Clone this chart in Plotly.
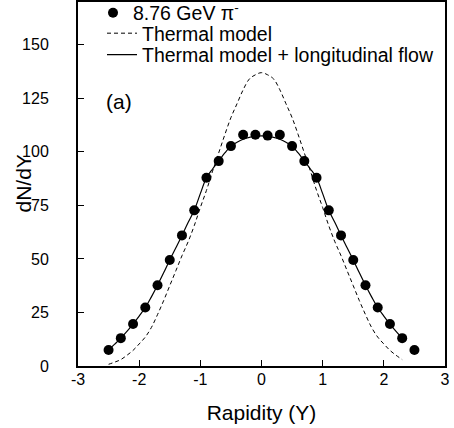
import plotly.graph_objects as go

# Data points (8.76 GeV pi-)
data_y_rap = [-2.5, -2.3, -2.1, -1.9, -1.7, -1.5, -1.3, -1.1, -0.9, -0.7, -0.5, -0.3, -0.1,
              0.1, 0.3, 0.5, 0.7, 0.9, 1.1, 1.3, 1.5, 1.7, 1.9, 2.1, 2.3, 2.5]
data_dndy = [7.5, 13.0, 19.6, 27.3, 37.7, 49.5, 61.0, 72.7, 87.9, 95.7, 102.7, 108.0, 108.0,
             107.6, 108.0, 102.7, 95.7, 87.9, 72.7, 61.0, 49.5, 37.7, 27.3, 19.6, 13.0, 7.5]

# Model curves (step 0.1)
curve_rap = [-2.5, -2.4, -2.3, -2.2, -2.1, -2.0, -1.9, -1.8, -1.7, -1.6, -1.5, -1.4, -1.3,
             -1.2, -1.1, -1.0, -0.9, -0.8, -0.7, -0.6, -0.5, -0.4, -0.3, -0.2, -0.1, 0.0,
             0.1, 0.2, 0.3, 0.4, 0.5, 0.6, 0.7, 0.8, 0.9, 1.0, 1.1, 1.2, 1.3, 1.4, 1.5,
             1.6, 1.7, 1.8, 1.9, 2.0, 2.1, 2.2, 2.3]
thermal = [0.8, 1.8, 3.0, 5.0, 7.3, 10.3, 13.5, 18.0, 24.0, 30.5, 37.5, 44.5, 51.5,
           58.0, 65.5, 74.0, 82.0, 91.0, 99.5, 108.0, 116.0, 122.5, 129.0, 134.0, 136.0, 137.0,
           136.0, 134.0, 129.0, 122.5, 116.0, 108.0, 99.5, 91.0, 82.0, 74.0, 65.5, 58.0, 51.5, 44.5, 37.5,
           30.5, 24.0, 18.0, 13.5, 10.3, 7.3, 5.0, 3.0]
thermal_flow = [7.5, 10.2, 13.0, 16.2, 19.6, 23.3, 27.3, 32.3, 37.7, 43.5, 49.5, 55.2, 61.0,
                67.0, 72.7, 80.5, 87.9, 92.0, 95.7, 99.5, 102.7, 104.5, 105.9, 106.8, 107.3, 107.5,
                107.3, 106.8, 105.9, 104.5, 102.7, 99.5, 95.7, 92.0, 87.9, 80.5, 72.7, 67.0, 61.0, 55.2, 49.5,
                43.5, 37.7, 32.3, 27.3, 23.3, 19.6, 16.2, 13.0]

x_ticks = [-3, -2, -1, 0, 1, 2, 3]
y_ticks = [0, 25, 50, 75, 100, 125, 150]
y_range = [0, 170]

FONT = "Liberation Sans, Arial, sans-serif"
LEG_FONT = dict(family=FONT, size=19.5, color="black")
TICK_FONT = dict(family=FONT, size=16, color="black")

fig = go.Figure()
fig.add_trace(go.Scatter(
    x=curve_rap, y=thermal, mode="lines", line_shape="spline",
    line=dict(color="black", width=1, dash="4px,3px"),
    name="Thermal model", legend="legend2"))
fig.add_trace(go.Scatter(
    x=curve_rap, y=thermal_flow, mode="lines", line_shape="spline",
    line=dict(color="black", width=1.2),
    name="Thermal model + longitudinal flow", legend="legend3"))
# data points on the overlay axis (same range, carries the tick labels)
fig.add_trace(go.Scatter(
    x=data_y_rap, y=data_dndy, mode="markers", yaxis="y2",
    marker=dict(symbol="circle", size=10, color="black"),
    name="8.76 GeV π<sup>-</sup>", legend="legend"))

axis_common = dict(
    showline=True, linecolor="black", linewidth=1.6, mirror=True,
    ticks="inside", ticklen=6, tickwidth=1, tickcolor="black",
    showgrid=False, zeroline=False, automargin=False,
    tickfont=TICK_FONT,
)

fig.update_xaxes(range=[-3, 3], tickvals=x_ticks, ticktext=[str(v) for v in x_ticks],
                 title=dict(text="Rapidity (Y)", font=dict(family=FONT, size=21, color="black"), standoff=18),
                 ticklabelstandoff=-2, **axis_common)

# y-axis title placed as rotated text
fig.add_annotation(x=(22.5 - 78) / 367, y=(366 - 183) / 364, xref="paper", yref="paper",
                   text="dN/dY", textangle=-90, showarrow=False,
                   xanchor="center", yanchor="middle", font=dict(family=FONT, size=21, color="black"))

fig.add_annotation(x=-2.58, y=123.6, xref="x", yref="y", text="(a)", showarrow=False,
                   xanchor="left", yanchor="middle", font=dict(family=FONT, size=21, color="black"))

leg_common = dict(xanchor="left", yanchor="middle", bgcolor="rgba(0,0,0,0)", borderwidth=0,
                  font=LEG_FONT, itemwidth=30)

fig.update_layout(
    width=454, height=428,
    margin=dict(l=78, r=9, t=2, b=62, autoexpand=False),
    paper_bgcolor="white", plot_bgcolor="white",
    showlegend=True,
    yaxis=dict(range=y_range, tickvals=y_ticks, showticklabels=False, **axis_common),
    # label-carrying overlay axis, so the y tick labels sit farther from the frame
    yaxis2=dict(overlaying="y", side="left", range=y_range, tickvals=y_ticks,
                ticktext=[str(v) for v in y_ticks], ticks="outside", ticklen=25,
                tickcolor="rgba(0,0,0,0)", showline=False, showgrid=False, zeroline=False,
                automargin=False, tickfont=TICK_FONT),
    legend=dict(x=(93 - 78) / 367, y=(366 - 13) / 364, **leg_common),
    legend2=dict(x=(102 - 78) / 367, y=(366 - 33.5) / 364, **leg_common),
    legend3=dict(x=(102 - 78) / 367, y=(366 - 55) / 364, **leg_common),
)

fig.write_html("out.html", config={"displayModeBar": False},
               post_script="document.body.style.margin='0';")
